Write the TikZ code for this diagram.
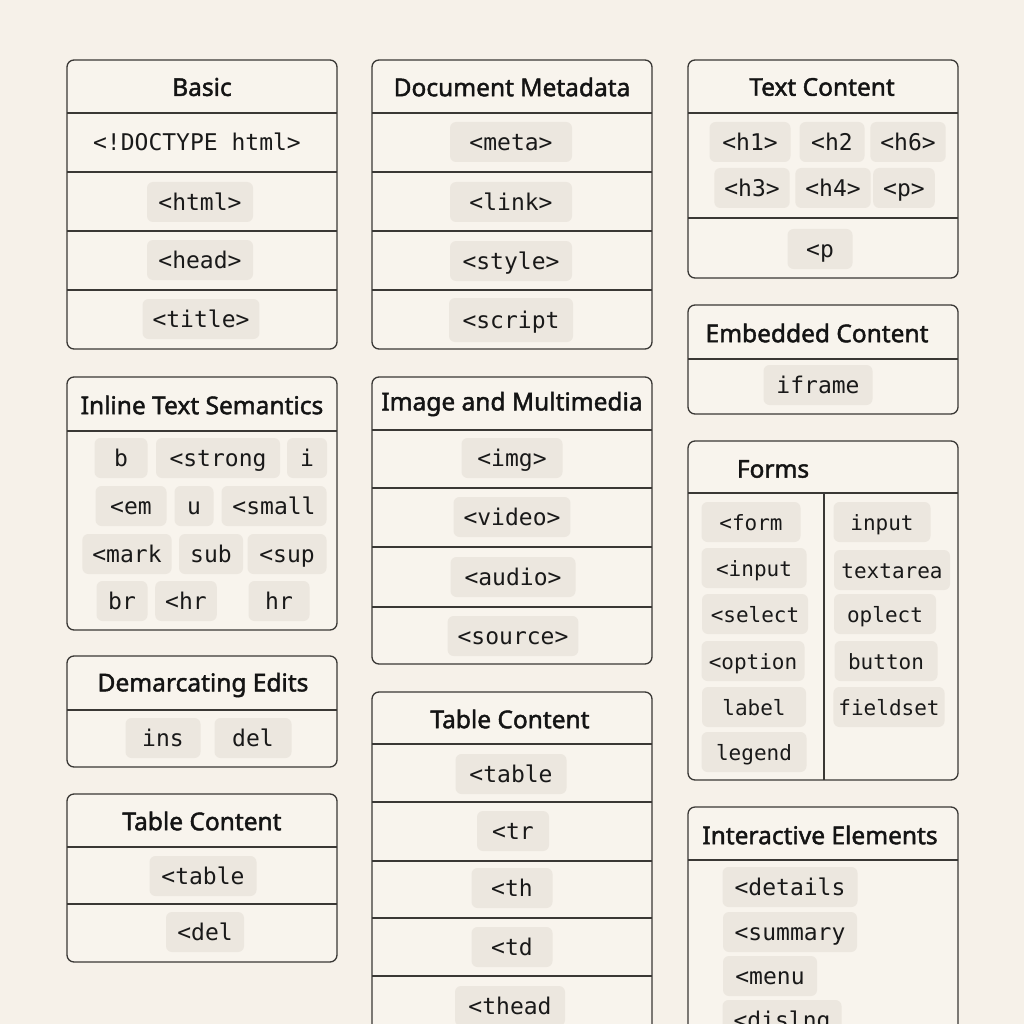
\documentclass[tikz,border=0pt]{standalone}
\usepackage{fontspec}
\usepackage{tikz}
\newfontfamily\headfam{Noto Sans}[FakeBold=1.8]
\newfontfamily\tagfam{DejaVu Sans Mono}
\definecolor{pagec}{HTML}{F6F1E9}
\definecolor{boxc}{HTML}{F8F4ED}
\definecolor{chipc}{HTML}{ECE7DF}
\definecolor{linec}{HTML}{3A3835}

\begin{document}
\begin{tikzpicture}[
  x=1pt,y=-1pt,
  panel/.style={draw=linec,line width=1.3pt,fill=boxc,rounded corners=7},
  rule/.style={draw=linec,line width=1.3pt},
  head/.style={font=\headfam\fontsize{24.5}{28}\selectfont,text=black!92},
  tag/.style={fill=chipc,rounded corners=6,font=\tagfam\fontsize{23}{26}\selectfont,
    text=black!90,inner xsep=10,inner ysep=0,minimum height=40,text height=22,text depth=5},
  ftag/.style={tag,font=\tagfam\fontsize{21}{24}\selectfont,inner xsep=5},
  plain/.style={font=\tagfam\fontsize{23}{26}\selectfont,text=black!90,
    inner sep=0,text height=22,text depth=5}
  ]
\fill[pagec] (0,0) rectangle (1024,1024);
\useasboundingbox (0,0) rectangle (1024,1024);
\clip (0,0) rectangle (1024,1024);
% first column
\draw[panel] (67,60) rectangle (337,349);
\foreach \y in {113,172,231,290} \draw[rule] (67,\y) -- (337,\y);
\node[head] (basicT) at (202,87) {Basic};
\node[plain] (doctype) at (197,142) {<!DOCTYPE html>};
\node[tag,minimum width=106] (html) at (200,202) {<html>};
\node[tag,minimum width=106] (head) at (200,260) {<head>};
\node[tag,minimum width=113] (title) at (201,319) {<title>};

\draw[panel] (67,377) rectangle (337,630);
\draw[rule] (67,431) -- (337,431);
\node[head] (inlineT) at (202,405) {Inline Text Semantics};
\node[tag,minimum width=53] (b) at (121,458) {b};
\node[tag,minimum width=124] (strong) at (218,458) {<strong};
\node[tag,minimum width=40] (i) at (307,458) {i};
\node[tag,minimum width=71] (em) at (131,506) {<em};
\node[tag,minimum width=39] (u) at (194,506) {u};
\node[tag,minimum width=105] (small) at (274,506) {<small};
\node[tag,minimum width=89] (mark) at (127,554) {<mark};
\node[tag,minimum width=64] (sub) at (211,554) {sub};
\node[tag,minimum width=79] (sup) at (287,554) {<sup};
\node[tag,minimum width=51] (br) at (122,601) {br};
\node[tag,minimum width=61] (hrA) at (186,601) {<hr};
\node[tag,minimum width=61] (hrB) at (279,601) {hr};

\draw[panel] (67,656) rectangle (337,767);
\draw[rule] (67,710) -- (337,710);
\node[head] (editsT) at (203,685) {Demarcating Edits};
\node[tag,minimum width=75] (ins) at (163,738) {ins};
\node[tag,minimum width=77] (del) at (253,738) {del};

\draw[panel] (67,794) rectangle (337,962);
\foreach \y in {847,904} \draw[rule] (67,\y) -- (337,\y);
\node[head] (tableAT) at (202,821) {Table Content};
\node[tag,minimum width=107] (tableA) at (203,876) {<table};
\node[tag,minimum width=78] (delA) at (205,932) {<del};

% second column
\draw[panel] (372,60) rectangle (652,349);
\foreach \y in {113,172,231,290} \draw[rule] (372,\y) -- (652,\y);
\node[head] (metaT) at (512,87) {Document Metadata};
\node[tag,minimum width=122] (meta) at (511,142) {<meta>};
\node[tag,minimum width=122] (link) at (511,202) {<link>};
\node[tag,minimum width=122] (style) at (511,261) {<style>};
\node[tag,minimum width=124,minimum height=44] (script) at (511,320) {<script};

\draw[panel] (372,377) rectangle (652,664);
\foreach \y in {430,488,547,607} \draw[rule] (372,\y) -- (652,\y);
\node[head] (mediaT) at (512,404) {Image and Multimedia};
\node[tag,minimum width=101] (img) at (512,458) {<img>};
\node[tag,minimum width=109] (video) at (512,517) {<video>};
\node[tag,minimum width=125] (audio) at (513,577) {<audio>};
\node[tag,minimum width=129] (source) at (513,636) {<source>};

\draw[panel] (372,692) rectangle (652,1040);
\foreach \y in {744,802,861,918,976} \draw[rule] (372,\y) -- (652,\y);
\node[head] (tableBT) at (510,719) {Table Content};
\node[tag,minimum width=111] (tableB) at (511,774) {<table};
\node[tag,minimum width=72] (tr) at (513,831) {<tr};
\node[tag,minimum width=81] (th) at (512,888) {<th};
\node[tag,minimum width=81] (td) at (512,947) {<td};
\node[tag,minimum width=110] (thead) at (510,1006) {<thead};

% third column
\draw[panel] (688,60) rectangle (958,278);
\foreach \y in {113,218} \draw[rule] (688,\y) -- (958,\y);
\node[head] (textT) at (822,87) {Text Content};
\node[tag,minimum width=81] (hA) at (750,142) {<h1>};
\node[tag,minimum width=65] (hB) at (832,142) {<h2};
\node[tag,minimum width=71] (hF) at (908,142) {<h6>};
\node[tag,minimum width=74] (hC) at (752,188) {<h3>};
\node[tag,minimum width=67] (hD) at (833,188) {<h4>};
\node[tag,minimum width=61] (pA) at (904,188) {<p>};
\node[tag,minimum width=65] (pB) at (820,249) {<p};

\draw[panel] (688,305) rectangle (958,414);
\draw[rule] (688,359) -- (958,359);
\node[head] (embedT) at (817,333) {Embedded Content};
\node[tag,minimum width=109] (iframe) at (818,385) {iframe};

\draw[panel] (688,441) rectangle (958,780);
\draw[rule] (688,493) -- (958,493);
\draw[rule] (824,493) -- (824,780);
\node[head] (formsT) at (773,469) {Forms};
\node[ftag,minimum width=99] (form) at (751,522) {<form};
\node[ftag,minimum width=105] (inputA) at (754,568) {<input};
\node[ftag,minimum width=106] (select) at (755,614) {<select};
\node[ftag,minimum width=103] (option) at (753,661) {<option};
\node[ftag,minimum width=104] (label) at (754,707) {label};
\node[ftag,minimum width=105] (legend) at (754,752) {legend};
\node[ftag,minimum width=97] (inputB) at (882,522) {input};
\node[ftag,minimum width=116] (textarea) at (892,570) {textarea};
\node[ftag,minimum width=102] (oplect) at (885,614) {oplect};
\node[ftag,minimum width=103] (button) at (886,661) {button};
\node[ftag,minimum width=110] (fieldset) at (889,707) {fieldset};

\draw[panel] (688,807) rectangle (958,1040);
\draw[rule] (688,860) -- (958,860);
\node[head] (actT) at (820,835) {Interactive Elements};
\node[tag,minimum width=135] (details) at (790,887) {<details};
\node[tag,minimum width=134] (summary) at (790,932) {<summary};
\node[tag,minimum width=94] (menu) at (770,976) {<menu};
\node[tag,minimum width=119] (dislng) at (782,1020) {<dislng};
\end{tikzpicture}
\end{document}
